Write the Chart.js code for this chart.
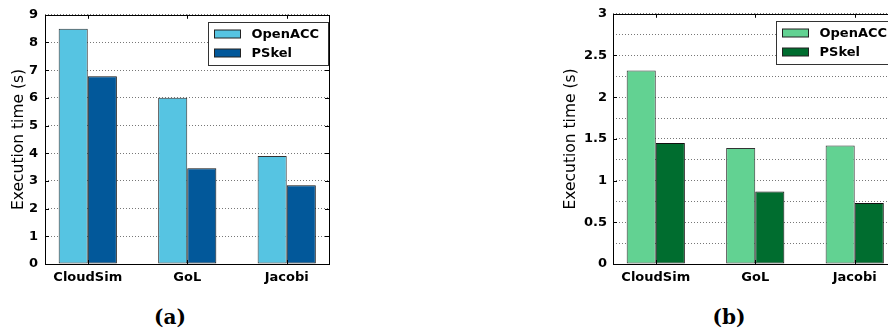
<!DOCTYPE html>
<html>
<head>
<meta charset="utf-8">
<script src="https://cdn.jsdelivr.net/npm/chart.js@4.4.0/dist/chart.umd.min.js"></script>
<style>
  html, body { margin: 0; padding: 0; background: #fff; }
  body { width: 888px; height: 334px; overflow: hidden; position: relative; }
  .wrap { position: absolute; top: 0; }
  .cap { position: absolute; font-family: "DejaVu Serif", serif; font-weight: bold; font-size: 20px; color: #000; transform: translateX(-50%); }
</style>
</head>
<body>
<div class="wrap" style="left:0px;width:340px;height:290px"><canvas id="chartA" width="340" height="290"></canvas></div>
<div class="wrap" style="left:550px;width:357px;height:290px"><canvas id="chartB" width="357" height="290"></canvas></div>
<div class="cap" style="left:170px;top:305px">(a)</div>
<div class="cap" style="left:729px;top:305px">(b)</div>
<script>
// data
const categories = ['CloudSim', 'GoL', 'Jacobi'];
const seriesNames = ['OpenACC', 'PSkel'];
const openaccA = [8.5, 6.0, 3.9];
const pskelA = [6.78, 3.46, 2.84];
const openaccB = [2.32, 1.39, 1.42];
const pskelB = [1.45, 0.87, 0.73];
const yTicksA = [0, 1, 2, 3, 4, 5, 6, 7, 8, 9];
const yTicksB = [0, 0.5, 1, 1.5, 2, 2.5, 3];

const FONT = '"DejaVu Sans", sans-serif';

// frame, inward tick marks (matplotlib style) and boxed legend
const framePlugin = {
  id: 'frame',
  afterDraw(chart) {
    const ctx = chart.ctx, a = chart.chartArea;
    const x = chart.scales.x, y = chart.scales.y;
    const majors = chart.options.plugins.frame.majors;
    ctx.save();
    ctx.strokeStyle = '#000';
    ctx.lineWidth = 1;
    ctx.strokeRect(Math.round(a.left) + 0.5, Math.round(a.top) + 0.5, Math.round(a.right - a.left), Math.round(a.bottom - a.top));
    ctx.beginPath();
    majors.forEach(v => {
      const py = Math.round(y.getPixelForValue(v)) + 0.5;
      ctx.moveTo(a.left, py); ctx.lineTo(a.left + 4, py);
      ctx.moveTo(a.right, py); ctx.lineTo(a.right - 4, py);
    });
    categories.forEach((c, i) => {
      const px = Math.round(x.getPixelForValue(i)) + 0.5;
      ctx.moveTo(px, a.top); ctx.lineTo(px, a.top + 4);
      ctx.moveTo(px, a.bottom); ctx.lineTo(px, a.bottom - 4);
    });
    ctx.stroke();

    // legend
    const bx = Math.round(a.right - 121) + 0.5, by = Math.round(a.top + 7) + 0.5;
    ctx.fillStyle = '#fff';
    ctx.fillRect(bx, by, 120, 43);
    ctx.strokeStyle = '#333';
    ctx.strokeRect(bx, by, 120, 43);
    ctx.font = 'bold 13px ' + FONT;
    ctx.textBaseline = 'middle';
    chart.data.datasets.forEach((ds, i) => {
      const cy = by + 11 + i * 19;
      ctx.fillStyle = ds.backgroundColor;
      ctx.fillRect(bx + 6, Math.round(cy - 4), 26, 8);
      ctx.strokeStyle = '#222';
      ctx.strokeRect(bx + 6, Math.round(cy - 4), 26, 8);
      ctx.fillStyle = '#000';
      ctx.fillText(ds.label, bx + 43, cy + 1);
    });
    ctx.restore();
  }
};

function makeChart(id, s1, s2, colors, yMax, step, majors, axisW, labelPad, titlePad) {
  const ctx = document.getElementById(id).getContext('2d');
  return new Chart(ctx, {
    type: 'bar',
    data: {
      datasets: [
        {
          label: seriesNames[0],
          data: s1.map((v, i) => ({ x: i, y: v })),
          backgroundColor: colors[0],
          borderColor: '#333',
          borderWidth: 1,
          borderSkipped: false
        },
        {
          label: seriesNames[1],
          data: s2.map((v, i) => ({ x: i, y: v })),
          backgroundColor: colors[1],
          borderColor: '#111',
          borderWidth: 1,
          borderSkipped: false
        }
      ]
    },
    options: {
      responsive: false,
      animation: false,
      layout: { padding: { top: 13, right: ctx.canvas.width - axisW - 284, left: 0, bottom: 0 } },
      categoryPercentage: 0.585,
      barPercentage: 1.0,
      plugins: {
        legend: { display: false },
        tooltip: { enabled: false },
        frame: { majors: majors }
      },
      scales: {
        x: {
          type: 'linear',
          offset: false,
          min: -0.43,
          max: 2.425,
          afterFit: s => { s.height = 26; },
          afterBuildTicks: s => { s.ticks = categories.map((c, i) => ({ value: i })); },
          grid: { display: false, drawTicks: false },
          border: { display: false },
          ticks: {
            padding: 6,
            color: '#000',
            font: { family: FONT, size: 13, weight: 'bold' },
            callback: v => categories[v]
          }
        },
        y: {
          min: 0,
          max: yMax,
          afterFit: s => { s.width = axisW; },
          grid: { color: '#777', lineWidth: 1, drawTicks: false },
          border: { display: false, dash: [1, 2] },
          ticks: {
            stepSize: step,
            padding: labelPad,
            color: '#000',
            font: { family: FONT, size: 13, weight: 'bold' },
            callback: v => majors.includes(v) ? String(v) : ''
          },
          title: {
            display: true,
            text: 'Execution time (s)',
            color: '#000',
            padding: { top: titlePad, bottom: 0 },
            font: { family: FONT, size: 15.5, weight: 'normal' }
          }
        }
      }
    },
    plugins: [framePlugin]
  });
}

makeChart('chartA', openaccA, pskelA, ['#56c4e2', '#02589a'], 9, 0.5, yTicksA, 45, 7, 10);
makeChart('chartB', openaccB, pskelB, ['#62d292', '#006d2f'], 3, 0.25, yTicksB, 63, 6, 12);
</script>
</body>
</html>
